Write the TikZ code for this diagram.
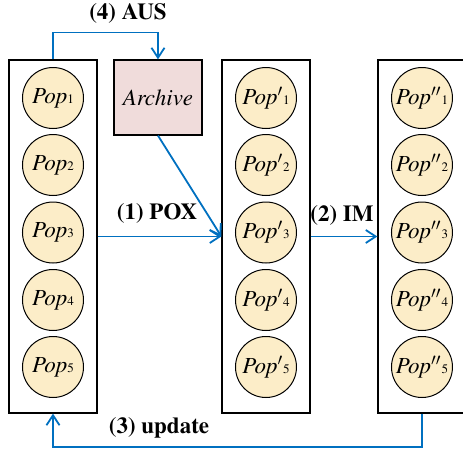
\documentclass[tikz,border=0pt]{standalone}
\usepackage[T1]{fontenc}
\usepackage{mathptmx}
\usetikzlibrary{arrows.meta,positioning}

\definecolor{flowblue}{HTML}{0070C0}
\definecolor{popfill}{HTML}{FCEDC8}
\definecolor{archfill}{HTML}{F0DCDB}

\newcommand{\popname}[2]{\textit{Pop}$#1${\fontsize{6.5}{7}\selectfont #2}}

\begin{document}
\begin{tikzpicture}[x=0.5pt, y=-0.5pt, font=\fontsize{11.5}{13}\selectfont]
			\tikzstyle{Column}	= [draw, line width=0.6pt, minimum width=44pt, minimum height=176.5pt, inner sep=0pt]
			\tikzstyle{Pop}		= [circle, draw, line width=0.5pt, fill=popfill, minimum size=30.5pt, inner sep=0pt]
			\tikzstyle{Flow}	= [flowblue, line width=0.9pt, -{Straight Barb[length=5pt, width=6.5pt]}]
			\tikzstyle{StepLabel}	= [font=\fontsize{11.5}{13}\selectfont\bfseries]
			
			\useasboundingbox (0,0) rectangle (463,451);
			
			\node (L) at (53, 236.5) [Column] {};
			\node (M) at (266, 236.5) [Column] {};
			\node (R) at (422, 236.5) [Column] {};
			\node (A) at (158, 97.5) [Column, fill=archfill, minimum height=37.5pt] {\textit{Archive}};
			
			\node (p1) at (53, 98) [Pop] {\popname{}{1}};
			\node (p2) at (53, 165) [Pop] {\popname{}{2}};
			\node (p3) at (53, 232.5) [Pop] {\popname{}{3}};
			\node (p4) at (53, 300) [Pop] {\popname{}{4}};
			\node (p5) at (53, 367) [Pop] {\popname{}{5}};
			
			\node (q1) at (266, 98) [Pop] {\popname{'}{1}};
			\node (q2) at (266, 165) [Pop] {\popname{'}{2}};
			\node (q3) at (266, 232.5) [Pop] {\popname{'}{3}};
			\node (q4) at (266, 300) [Pop] {\popname{'}{4}};
			\node (q5) at (266, 367) [Pop] {\popname{'}{5}};
			
			\node (r1) at (422, 98) [Pop] {\popname{''}{1}};
			\node (r2) at (422, 165) [Pop] {\popname{''}{2}};
			\node (r3) at (422, 232.5) [Pop] {\popname{''}{3}};
			\node (r4) at (422, 300) [Pop] {\popname{''}{4}};
			\node (r5) at (422, 367) [Pop] {\popname{''}{5}};
			
			\draw [Flow] (L.north) -- ++(0,-27) -| (A.north);
			\draw [Flow] (A.south) -- (M.west);
			\draw [Flow] (L.east) -- (M.west);
			\draw [Flow] (M.east) -- (R.west);
			\draw [Flow] (R.south) -- ++(0,33) -| (L.south);
			
			\node (aus) at (128, 14) [StepLabel] {(4) AUS};
			\node (pox) at (157, 214) [StepLabel] {(1) POX};
			\node (im) at (342, 216) [StepLabel] {(2) IM};
			\node (upd) at (159, 428) [StepLabel] {(3) update};
		\end{tikzpicture}
\end{document}
